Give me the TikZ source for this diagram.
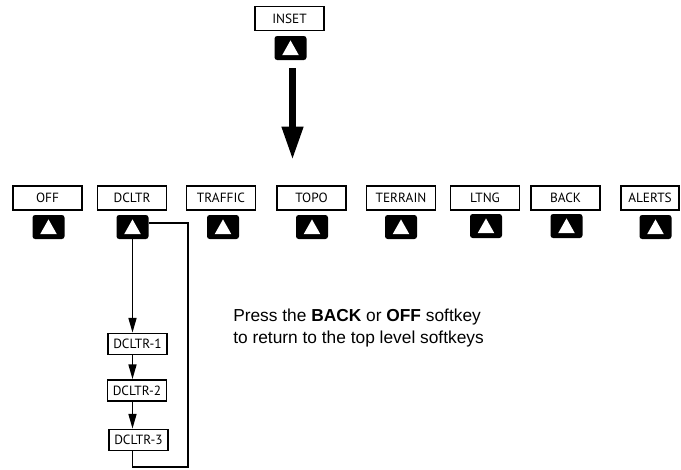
\documentclass[tikz,border=0pt]{standalone}
\usepackage{fontspec}
\setmainfont{Liberation Sans}
\newfontfamily\teclafont{PT Sans}
\usetikzlibrary{arrows.meta,positioning,calc}

\begin{document}
\begin{tikzpicture}[x=0.75pt,y=-0.75pt,
  rotulo/.style={draw,line width=1.1pt,minimum width=52pt,minimum height=18pt,inner sep=1pt,font=\teclafont\fontsize{10}{12}\selectfont},
  subrotulo/.style={rotulo,minimum width=44pt,minimum height=16pt},
  tecla/.style={fill=black,rounded corners=2pt,minimum width=24pt,minimum height=18pt,inner sep=0pt,
    path picture={\fill[white,sharp corners] ([shift={(-6.2pt,-5.3pt)}]path picture bounding box.center)
      -- ([shift={(6.2pt,-5.3pt)}]path picture bounding box.center)
      -- ([shift={(0pt,5.7pt)}]path picture bounding box.center) -- cycle;}},
  lin/.style={line width=1.1pt},
  arr/.style={lin,-{Triangle[width=6pt,length=11pt]}},
  gruesa/.style={line width=5.25pt,-{Triangle[width=15pt,length=25pt]}}]
\useasboundingbox (0,0) rectangle (681,469);
% INSET softkey
\node[rotulo] (inset) at (289.5,18.5) {INSET};
\node[tecla] (inset-t) at (290.5,48) {};
\coordinate (fin) at (292.5,160);
\draw[gruesa,shorten <=6pt] (inset-t.south -| fin) -- (fin);
% top level softkeys
\node[rotulo] (off) at (47.5,198) {OFF};
\node[rotulo] (dcltr) at (132,198) {DCLTR};
\node[rotulo] (traffic) at (221,198) {TRAFFIC};
\node[rotulo] (topo) at (311.5,198) {TOPO};
\node[rotulo] (terrain) at (401,198) {TERRAIN};
\node[rotulo] (ltng) at (485,198) {LTNG};
\node[rotulo] (back) at (565.5,198) {BACK};
\node[rotulo,minimum width=43.5pt] (alerts) at (650,198) {ALERTS};
\node[tecla] (off-t) at (48.5,227) {};
\node[tecla] (dcltr-t) at (132.5,227) {};
\node[tecla] (traffic-t) at (223,227) {};
\node[tecla] (topo-t) at (312,227) {};
\node[tecla] (terrain-t) at (401,227) {};
\node[tecla] (ltng-t) at (486,226) {};
\node[tecla] (back-t) at (566.5,226) {};
\node[tecla] (alerts-t) at (655.5,227) {};
% DCLTR levels
\node[subrotulo] (dcltr1) at (137.5,344) {DCLTR-1};
\node[subrotulo] (dcltr2) at (137,390.5) {DCLTR-2};
\node[subrotulo] (dcltr3) at (138.5,440) {DCLTR-3};
\coordinate (lazo) at (188,467);
\draw[arr] (dcltr-t.south) -- (dcltr-t.south |- dcltr1.north);
\draw[arr] (dcltr1.south -| dcltr-t) -- (dcltr-t |- dcltr2.north);
\draw[arr] (dcltr2.south -| dcltr-t) -- (dcltr-t |- dcltr3.north);
\draw[lin] ([yshift=3pt]dcltr-t.east) -| (lazo) -| (dcltr3.south -| dcltr-t);
% note
\node[anchor=north west,align=left,inner sep=0pt,font=\fontsize{13}{16.5}\selectfont] (nota) at (233,309)
  {Press the \textbf{BACK} or \textbf{OFF} softkey\\to return to the top level softkeys};
\end{tikzpicture}
\end{document}
